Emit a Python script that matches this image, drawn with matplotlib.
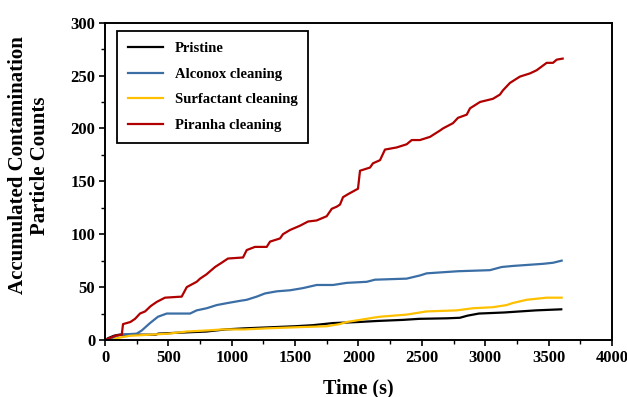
import matplotlib.pyplot as plt
from matplotlib.ticker import MultipleLocator

plt.rcParams['font.family'] = 'Liberation Serif'
plt.rcParams['font.weight'] = 'bold'

# cumulative particle counts vs time (s)
pristine_t = [0, 30, 70, 110, 400, 420, 600, 800, 950, 1100, 1300, 1500, 1640, 1720,
              1800, 2000, 2150, 2350, 2480, 2700, 2800, 2860, 2950, 3150, 3400, 3600]
pristine_n = [0, 2, 4, 5, 5, 6, 7, 8, 10, 11, 12, 13, 14, 15,
              16, 17, 18, 19, 20, 20.5, 21, 23, 25, 26, 28, 29]

alconox_t = [0, 60, 118, 250, 290, 355, 418, 487, 671, 723, 802, 881, 970, 1065, 1118,
             1197, 1262, 1355, 1460, 1560, 1670, 1799, 1907, 2065, 2130, 2380, 2485,
             2538, 2785, 3037, 3130, 3219, 3456, 3535, 3603]
alconox_n = [0, 2, 5, 6, 9, 16, 22, 25, 25, 28, 30, 33, 35, 37, 38,
             41, 44, 46, 47, 49, 52, 52, 54, 55, 57, 58, 61,
             63, 65, 66, 69, 70, 72, 73, 75]

surfactant_t = [0, 60, 100, 200, 355, 500, 645, 800, 931, 1100, 1276, 1500, 1749, 1850,
                1907, 2012, 2114, 2170, 2380, 2538, 2775, 2903, 3061, 3169, 3219, 3327,
                3485, 3603]
surfactant_n = [0, 0, 2, 4, 5, 6, 8, 9, 10, 10, 11, 12, 13, 15,
                17, 19, 21, 22, 24, 27, 28, 30, 31, 33, 35, 38,
                40, 40]

piranha_t = [0, 40, 80, 132, 142, 200, 237, 276, 316, 360, 408, 473, 605, 645, 723, 750,
             800, 868, 920, 970, 1089, 1118, 1183, 1276, 1302, 1381, 1404, 1460, 1538,
             1602, 1670, 1749, 1789, 1828, 1854, 1878, 1920, 1996, 2012, 2091, 2114,
             2170, 2209, 2301, 2380, 2420, 2485, 2564, 2643, 2667, 2746, 2785, 2854,
             2880, 2959, 3061, 3116, 3140, 3195, 3274, 3353, 3406, 3485, 3535, 3564, 3611]
piranha_n = [0, 2, 4, 5, 15, 17, 20, 25, 27, 32, 36, 40, 41, 50, 55, 58,
             62, 69, 73, 77, 78, 85, 88, 88, 93, 96, 100, 104, 108,
             112, 113, 117, 124, 126, 128, 135, 138, 143, 160, 163, 167,
             170, 180, 182, 185, 189, 189, 192, 198, 200, 205, 210, 213,
             219, 225, 228, 232, 236, 243, 249, 252, 255, 262, 262, 265, 266]

fig = plt.figure(figsize=(6.27, 3.97), dpi=100)
ax = fig.add_axes([0.1675, 0.1436, 0.8085, 0.7994])

ax.plot(pristine_t, pristine_n, color='black', lw=1.6, label='Pristine')
ax.plot(alconox_t, alconox_n, color='#3a6ea5', lw=1.6, label='Alconox cleaning')
ax.plot(surfactant_t, surfactant_n, color='#ffc000', lw=1.6, label='Surfactant cleaning')
ax.plot(piranha_t, piranha_n, color='#b00000', lw=1.6, label='Piranha cleaning')

ax.set_xlim(0, 4000)
ax.set_ylim(0, 300)
ax.xaxis.set_major_locator(MultipleLocator(500))
ax.xaxis.set_minor_locator(MultipleLocator(250))
ax.yaxis.set_major_locator(MultipleLocator(50))
ax.yaxis.set_minor_locator(MultipleLocator(25))
ax.tick_params(which='major', direction='out', length=4, width=1.2, labelsize=12, pad=3)
ax.tick_params(which='minor', direction='out', length=3, width=1.0)
for s in ax.spines.values():
    s.set_linewidth(1.4)

ax.set_xlabel('Time (s)', fontsize=14.5, fontweight='bold', labelpad=9)
ax.set_ylabel('Accumulated Contamination\nParticle Counts', fontsize=15,
              fontweight='bold', linespacing=1.15)
ax.yaxis.set_label_coords(-0.108, 0.55)

leg = ax.legend(loc='upper left', fontsize=10.5, handlelength=2.4, fancybox=False,
                edgecolor='black', framealpha=1, borderpad=0.75, labelspacing=0.85,
                handletextpad=0.8, borderaxespad=0, bbox_to_anchor=(0.0237, 0.974))
leg.get_frame().set_linewidth(1.3)

fig.savefig('out.png', dpi=100)
